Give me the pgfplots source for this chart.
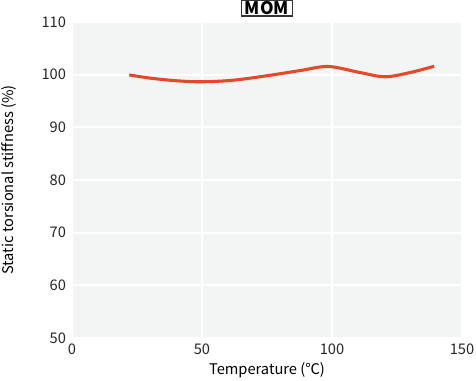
\documentclass[border=0pt]{standalone}
\usepackage{fontspec}
\setmainfont{Noto Sans CJK JP}
\usepackage{pgfplots}
\pgfplotsset{compat=1.18}
\definecolor{bgc}{HTML}{F3F4F4}
\definecolor{linec}{HTML}{E5492A}
\begin{document}
\begin{tikzpicture}[x=0.75pt,y=0.75pt]
\begin{axis}[
  at={(0,0)}, anchor=south west,
  scale only axis,
  width=292.5pt, height=237pt,
  xmin=0, xmax=150, ymin=50, ymax=110,
  xtick={0,50,100,150}, ytick={50,60,...,110},
  axis background/.style={fill=bgc},
  axis line style={draw=none},
  major tick length=0pt,
  grid=major,
  major grid style={white, line width=1.3pt},
  tick label style={font=\fontsize{11}{13}\selectfont, text=black!85},
  /pgf/number format/assume math mode=true,
  xticklabel style={yshift=-1pt},
  yticklabel style={xshift=-1pt},
  xlabel={Temperature (℃)},
  ylabel={Static torsional stiffness (\%)},
  label style={font=\fontsize{11}{13}\selectfont},
  xlabel style={yshift=1pt},
  ylabel style={yshift=12pt},
  clip=false,
]
\addplot[linec, line width=2.3pt, smooth, tension=0.55] coordinates {
(22,99.95) (30,99.35) (40,98.85) (50,98.65) (62,98.95) (75,99.8) (88,100.8) (98.6,101.55) (110.8,100.4) (120.4,99.6) (130,100.4) (139.3,101.6)
};
\node[draw=black!80, line width=1.2pt, fill=white, inner xsep=2.5pt, inner ysep=1pt, anchor=south, font=\bfseries\fontsize{13}{15}\selectfont] at (rel axis cs:0.5,1) [yshift=4pt] {MOM};
\end{axis}
\pgfresetboundingbox
\path (-72,-43) rectangle (404,338);
\end{tikzpicture}
\end{document}
